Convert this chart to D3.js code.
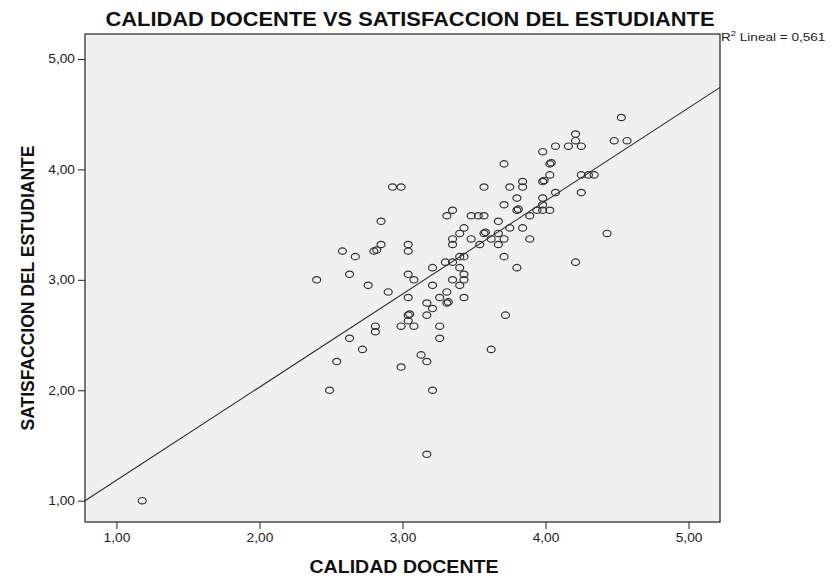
<!DOCTYPE html>
<html>
<head>
<meta charset="utf-8">
<script src="https://cdn.jsdelivr.net/npm/d3@7"></script>
<style>
  body { margin: 0; background: #fff; }
  svg { display: block; font-family: "Liberation Sans", Arial, sans-serif; }
  .tick text { font-size: 12.5px; fill: #222; }
  .tick line { stroke: #222; }
</style>
</head>
<body>
<div id="chart"></div>
<script>
// CALIDAD DOCENTE (x) vs SATISFACCION DEL ESTUDIANTE (y)
const calidad = [
  1.18, 2.40, 2.49, 2.54, 2.58, 2.63, 2.63, 2.67, 2.72, 2.76,
  2.80, 2.82, 2.85, 2.85, 2.81, 2.81, 2.90, 2.93, 2.99, 2.99,
  2.99, 3.04, 3.04, 3.04, 3.04, 3.04, 3.05, 3.04, 3.08, 3.08,
  3.13, 3.17, 3.17, 3.17, 3.17, 3.21, 3.21, 3.21, 3.21, 3.26,
  3.26, 3.26, 3.30, 3.31, 3.31, 3.31, 3.32, 3.35, 3.35, 3.35,
  3.35, 3.35, 3.40, 3.40, 3.40, 3.40, 3.43, 3.43, 3.43, 3.43,
  3.43, 3.48, 3.48, 3.53, 3.54, 3.57, 3.57, 3.57, 3.58, 3.62,
  3.62, 3.67, 3.67, 3.67, 3.71, 3.71, 3.71, 3.71, 3.72, 3.75,
  3.75, 3.80, 3.80, 3.81, 3.80, 3.84, 3.84, 3.84, 3.89, 3.89,
  3.94, 3.98, 3.98, 3.99, 3.98, 3.98, 3.98, 4.03, 4.04, 4.03,
  4.03, 4.07, 4.07, 4.16, 4.21, 4.21, 4.21, 4.25, 4.25, 4.30,
  4.34, 4.25, 4.43, 4.48, 4.53, 4.57
];
const satisfaccion = [
  1.00, 3.00, 2.00, 2.26, 3.26, 3.05, 2.47, 3.21, 2.37, 2.95,
  3.26, 3.27, 3.32, 3.53, 2.58, 2.53, 2.89, 3.84, 3.84, 2.58,
  2.21, 3.32, 3.26, 3.05, 2.84, 2.68, 2.69, 2.63, 3.00, 2.58,
  2.32, 2.79, 2.68, 2.26, 1.42, 3.11, 2.95, 2.74, 2.00, 2.84,
  2.58, 2.47, 3.16, 3.58, 2.89, 2.79, 2.80, 3.63, 3.37, 3.32,
  3.16, 3.00, 3.42, 3.21, 3.11, 2.95, 3.47, 3.21, 3.05, 3.00,
  2.84, 3.58, 3.37, 3.58, 3.32, 3.58, 3.84, 3.42, 3.43, 3.37,
  2.37, 3.53, 3.42, 3.32, 4.05, 3.68, 3.37, 3.21, 2.68, 3.84,
  3.47, 3.74, 3.63, 3.64, 3.11, 3.89, 3.84, 3.47, 3.58, 3.37,
  3.63, 4.16, 3.89, 3.90, 3.74, 3.68, 3.63, 4.05, 4.06, 3.95,
  3.63, 4.21, 3.79, 4.21, 4.32, 4.26, 3.16, 4.21, 3.95, 3.95,
  3.95, 3.79, 3.42, 4.26, 4.47, 4.26
];
const tickValues = [1, 2, 3, 4, 5];

// linear fit reported by SPSS
const fitIntercept = 0.342;
const fitSlope = 0.843;
const fitLabel = '0,561';

const title = 'CALIDAD DOCENTE VS SATISFACCION DEL ESTUDIANTE';
const xTitle = 'CALIDAD DOCENTE';
const yTitle = 'SATISFACCION DEL ESTUDIANTE';

const width = 831;
const height = 579;
const plot = { left: 85, right: 720, top: 34, bottom: 522 };
// the source picture is a little wider than tall, text looks stretched
const stretchX = 1.1;

const svg = d3.select('#chart').append('svg')
  .attr('width', width)
  .attr('height', height);

const x = d3.scaleLinear().domain([0.78, 5.22]).range([plot.left, plot.right]);
const y = d3.scaleLinear().domain([0.807, 5.226]).range([plot.bottom, plot.top]);

const fmt = d => d3.format('.2f')(d).replace('.', ',');

// plot background
svg.append('rect')
  .attr('x', plot.left)
  .attr('y', plot.top)
  .attr('width', plot.right - plot.left)
  .attr('height', plot.bottom - plot.top)
  .attr('fill', '#f0f0f0');

svg.append('clipPath')
    .attr('id', 'plotClip')
  .append('rect')
    .attr('x', plot.left)
    .attr('y', plot.top)
    .attr('width', plot.right - plot.left)
    .attr('height', plot.bottom - plot.top);

// points
const points = calidad.map((c, i) => ({ x: c, y: satisfaccion[i] }));

svg.append('g')
  .selectAll('ellipse')
    .data(points)
    .enter()
  .append('ellipse')
    .attr('cx', d => x(d.x))
    .attr('cy', d => y(d.y))
    .attr('rx', 4)
    .attr('ry', 3.2)
    .attr('fill', 'none')
    .attr('stroke', '#333')
    .attr('stroke-width', 1.2);

// fit line
const [x0, x1] = x.domain();
svg.append('line')
  .attr('clip-path', 'url(#plotClip)')
  .attr('x1', x(x0))
  .attr('y1', y(fitIntercept + fitSlope * x0))
  .attr('x2', x(x1))
  .attr('y2', y(fitIntercept + fitSlope * x1))
  .attr('stroke', '#333')
  .attr('stroke-width', 1.1);

// axes
const xAxis = svg.append('g')
  .attr('transform', `translate(0,${plot.bottom})`)
  .call(d3.axisBottom(x).tickValues(tickValues).tickFormat(fmt).tickSize(7).tickPadding(4));
xAxis.select('.domain').remove();
xAxis.selectAll('.tick text')
  .attr('transform', function () {
    const ty = +d3.select(this).attr('y');
    return `translate(0,${ty}) scale(${stretchX},1) translate(0,${-ty})`;
  });

const yAxis = svg.append('g')
  .attr('transform', `translate(${plot.left},0)`)
  .call(d3.axisLeft(y).tickValues(tickValues).tickFormat(fmt).tickSize(7).tickPadding(3));
yAxis.select('.domain').remove();
yAxis.selectAll('.tick text')
  .attr('transform', function () {
    const tx = +d3.select(this).attr('x');
    return `translate(${tx},0) scale(${stretchX},1) translate(${-tx},0)`;
  });

// frame
svg.append('rect')
  .attr('x', plot.left)
  .attr('y', plot.top)
  .attr('width', plot.right - plot.left)
  .attr('height', plot.bottom - plot.top)
  .attr('fill', 'none')
  .attr('stroke', '#222')
  .attr('stroke-width', 1.2);

// titles
svg.append('text')
  .attr('x', 410)
  .attr('y', 26)
  .attr('text-anchor', 'middle')
  .attr('font-size', 20)
  .attr('font-weight', 'bold')
  .attr('fill', '#111')
  .attr('textLength', 609)
  .attr('lengthAdjust', 'spacingAndGlyphs')
  .text(title);

svg.append('text')
  .attr('x', 404)
  .attr('y', 573)
  .attr('text-anchor', 'middle')
  .attr('font-size', 18)
  .attr('font-weight', 'bold')
  .attr('fill', '#111')
  .attr('textLength', 189)
  .attr('lengthAdjust', 'spacingAndGlyphs')
  .text(xTitle);

svg.append('text')
  .attr('transform', `translate(33.5,288) scale(${stretchX},1) rotate(-90)`)
  .attr('text-anchor', 'middle')
  .attr('font-size', 17.5)
  .attr('font-weight', 'bold')
  .attr('fill', '#111')
  .text(yTitle);

// R² label
const r2 = svg.append('text')
  .attr('transform', `translate(${plot.right + 1},41) scale(1.18,1)`)
  .attr('font-size', 11.5)
  .attr('fill', '#222');
r2.append('tspan').text('R');
r2.append('tspan').attr('dy', -5).attr('font-size', 8).text('2');
r2.append('tspan').attr('dy', 5).text(' Lineal = ' + fitLabel);
</script>
</body>
</html>
